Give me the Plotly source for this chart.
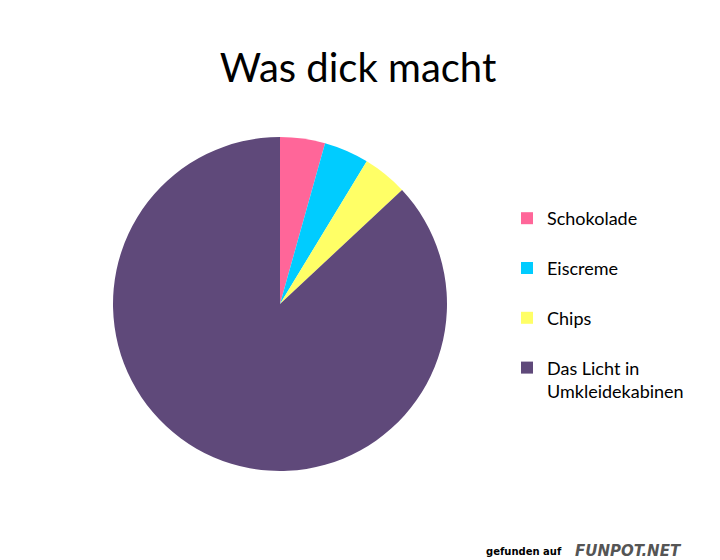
import plotly.graph_objects as go

# slices, top clockwise
labels = ['Schokolade', 'Eiscreme', 'Chips', 'Das Licht in<br>Umkleidekabinen']
values = [5, 5, 5, 100]
colors = ['#FF6699', '#00CCFF', '#FFFF66', '#5F497A']

title = 'Was dick macht'

# padding lines so the legend rows sit apart like the original
legend_names = [l if '<br>' in l else l + '<br> ' for l in labels]

fig = go.Figure()
fig.add_pie(
    labels=legend_names, values=values, sort=False, direction='clockwise',
    rotation=0, textinfo='none', hoverinfo='label+percent',
    marker=dict(colors=colors, line=dict(width=0)),
    domain=dict(x=[105/720, 439/720], y=[97/560, 431/560]),
)

fig.update_layout(
    width=720, height=560,
    margin=dict(l=0, r=0, t=0, b=0),
    paper_bgcolor='white', plot_bgcolor='white',
    font=dict(family='Lato, sans-serif', color='black'),
    title=dict(text=title, x=350/720, xanchor='center', y=1 - 60/560, yanchor='middle',
               font=dict(size=40, color='black')),
    legend=dict(x=499/720, xanchor='left', y=1 - 192/560, yanchor='top',
                valign='top', font=dict(size=18, color='black'),
                bgcolor='rgba(0,0,0,0)'),
)

# watermark at the bottom right
fig.add_annotation(text='<b>gefunden auf</b>', x=556/720, y=1 - 543/560,
                   xref='paper', yref='paper', xanchor='right', yanchor='middle',
                   showarrow=False, font=dict(size=10, family='DejaVu Sans', color='black'))
fig.add_annotation(text='<b><i>FUNPOT.NET</i></b>', x=565/720, y=1 - 543/560,
                   xref='paper', yref='paper', xanchor='left', yanchor='middle',
                   showarrow=False, font=dict(size=15, family='DejaVu Sans', color='#555555'))

fig.write_html('out.html')
